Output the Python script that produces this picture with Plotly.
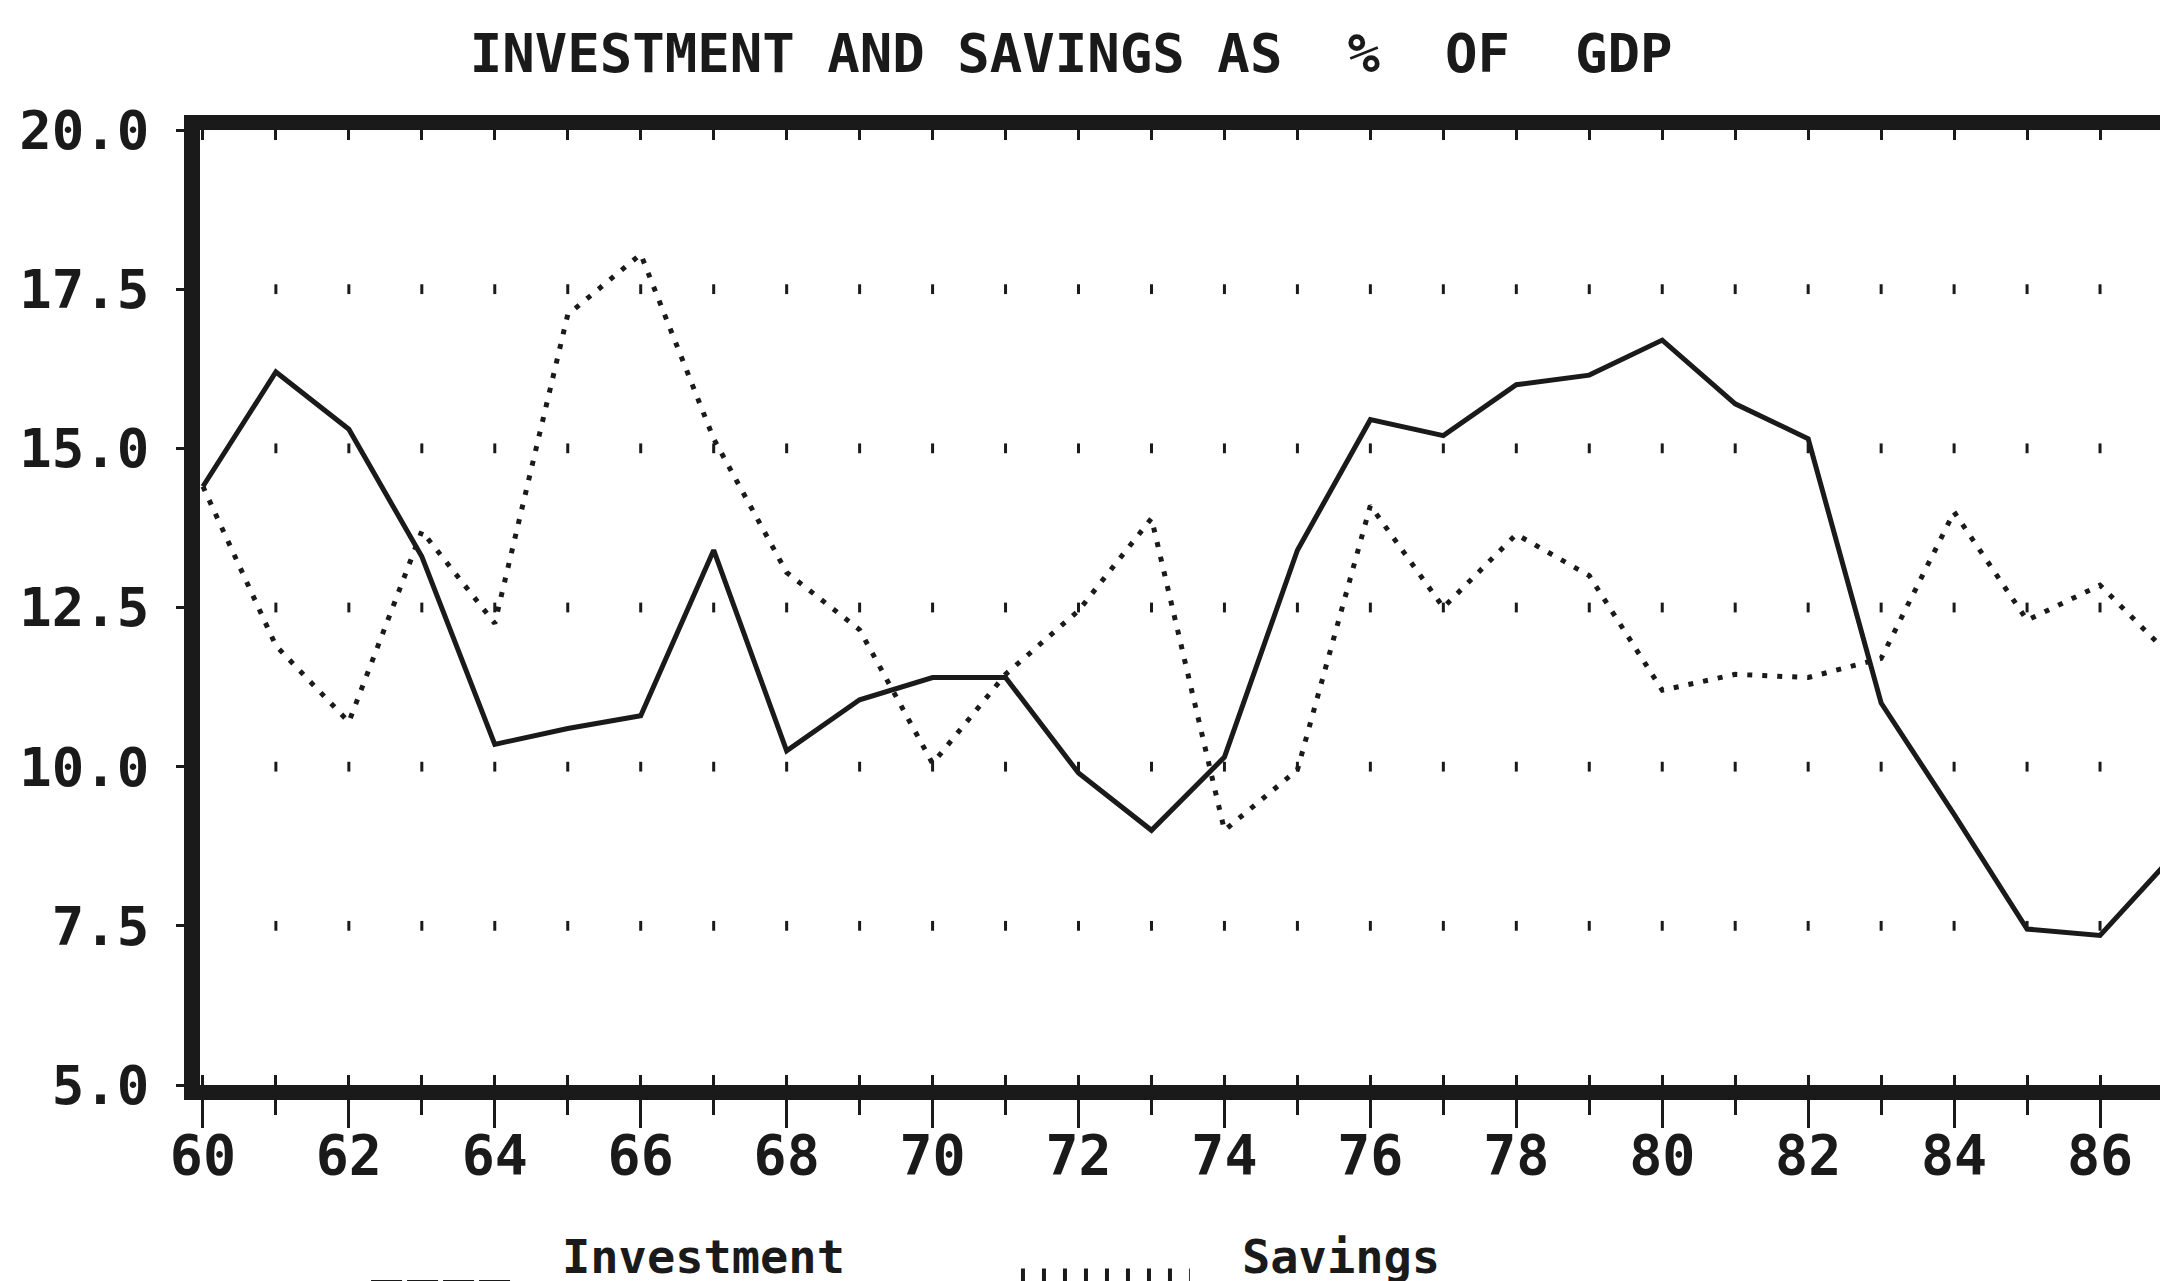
# coding: utf-8
import plotly.graph_objs as go

# years shown as two digits on the axis (1960 - 1987)
years = list(range(60, 88))

investment = [14.4, 16.2, 15.3, 13.3, 10.35, 10.6, 10.8, 13.4, 10.25, 11.05,
              11.4, 11.4, 9.9, 9.0, 10.15, 13.4, 15.45, 15.2, 16.0, 16.15,
              16.7, 15.7, 15.15, 11.0, 9.25, 7.45, 7.35, 8.6]

savings = [14.4, 11.9, 10.7, 13.7, 12.25, 17.1, 18.05, 15.15, 13.05, 12.15,
           10.05, 11.45, 12.45, 13.9, 9.0, 9.95, 14.1, 12.5, 13.65, 13.0,
           11.2, 11.45, 11.4, 11.7, 14.0, 12.3, 12.85, 11.7]

y_ticks = [5.0, 7.5, 10.0, 12.5, 15.0, 17.5, 20.0]
x_ticks = list(range(60, 87, 2))

title = "INVESTMENT AND SAVINGS AS\u00a0\u00a0%\u00a0\u00a0OF\u00a0\u00a0GDP"

FONT = "DejaVu Sans Mono, Liberation Mono, monospace"
INK = "#1a1a1a"
x_range = [59.96, 87.0]

# dotted grid: one dot per year on every inner y level
grid_x = []
grid_y = []
for yv in y_ticks[1:-1]:
	for yr in years[1:]:
		grid_x.append(yr)
		grid_y.append(yv)

traces = []
traces.append(go.Scatter(
	x = grid_x, y = grid_y, mode = "markers", xaxis = "x3",
	marker = dict(symbol = "line-ns", size = 7, line = dict(width = 3, color = INK)),
	hoverinfo = "skip", showlegend = False
))
traces.append(go.Scatter(x = [], y = [], xaxis = "x2", showlegend = False))
traces.append(go.Scatter(
	x = years, y = investment, mode = "lines", name = "Investment",
	line = dict(color = INK, width = 5), showlegend = False
))
traces.append(go.Scatter(
	x = years, y = savings, mode = "lines", name = "Savings",
	line = dict(color = INK, width = 5, dash = "5px,10px"), showlegend = False
))

fig = go.Figure(data = traces)

fig.update_layout(
	width = 2168, height = 1281,
	margin = dict(l = 192, r = 3, t = 122, b = 204),
	paper_bgcolor = "white", plot_bgcolor = "white",
	font = dict(family = FONT, color = INK, size = 54, weight = "bold"),
	title = dict(text = title, x = 0.4415, xref = "paper", xanchor = "center",
		y = 0.9648, yref = "container", yanchor = "middle",
		font = dict(family = FONT, size = 54, color = INK, weight = "bold")),
	xaxis = dict(
		range = x_range, tickmode = "array", tickvals = x_ticks,
		ticktext = [str(v) for v in x_ticks],
		showgrid = False, zeroline = False,
		showline = True, linewidth = 15, linecolor = INK, mirror = True,
		ticks = "outside", ticklen = 28, tickwidth = 3, tickcolor = INK,
		minor = dict(dtick = 1, tick0 = 60, ticks = "outside", ticklen = 15,
			tickwidth = 3, tickcolor = INK, showgrid = False),
		ticklabelstandoff = -20,
		tickfont = dict(family = FONT, size = 55, color = INK, weight = "bold")
	),
	xaxis2 = dict(
		range = x_range, overlaying = "x", side = "top", anchor = "y",
		showgrid = False, zeroline = False, showline = False,
		showticklabels = False, dtick = 1, tick0 = 60,
		ticks = "inside", ticklen = 10, tickwidth = 3, tickcolor = INK
	),
	xaxis3 = dict(
		range = x_range, overlaying = "x", side = "bottom", anchor = "y",
		showgrid = False, zeroline = False, showline = False,
		showticklabels = False, dtick = 1, tick0 = 60,
		ticks = "inside", ticklen = 10, tickwidth = 3, tickcolor = INK
	),
	yaxis = dict(
		range = [5, 20], tickmode = "array", tickvals = y_ticks,
		ticktext = ["%.1f" % v for v in y_ticks],
		showgrid = False, zeroline = False,
		showline = True, linewidth = 16, linecolor = INK, mirror = False,
		ticks = "outside", ticklen = 8, tickwidth = 3, tickcolor = INK,
		ticklabelstandoff = 16,
		tickfont = dict(family = FONT, size = 54, color = INK, weight = "bold")
	),
	shapes = [
		# right frame edge
		dict(type = "line", xref = "paper", yref = "paper", x0 = 1, x1 = 1, y0 = 0, y1 = 1,
			line = dict(color = INK, width = 3)),
		# legend samples
		dict(type = "line", xref = "paper", yref = "paper", x0 = 0.0867, x1 = 0.1586,
			y0 = -0.2084, y1 = -0.2084, line = dict(color = INK, width = 8, dash = "31px,5px")),
		dict(type = "line", xref = "paper", yref = "paper", x0 = 0.4161, x1 = 0.5017,
			y0 = -0.2, y1 = -0.2, line = dict(color = INK, width = 15, dash = "4px,17px")),
	],
	annotations = [
		dict(text = "Investment", xref = "paper", yref = "paper", x = 0.1824, y = -0.18,
			xanchor = "left", yanchor = "middle", showarrow = False,
			font = dict(family = FONT, size = 47, color = INK, weight = "bold")),
		dict(text = "Savings", xref = "paper", yref = "paper", x = 0.5271, y = -0.18,
			xanchor = "left", yanchor = "middle", showarrow = False,
			font = dict(family = FONT, size = 47, color = INK, weight = "bold")),
	]
)

fig.write_html("out.html")
